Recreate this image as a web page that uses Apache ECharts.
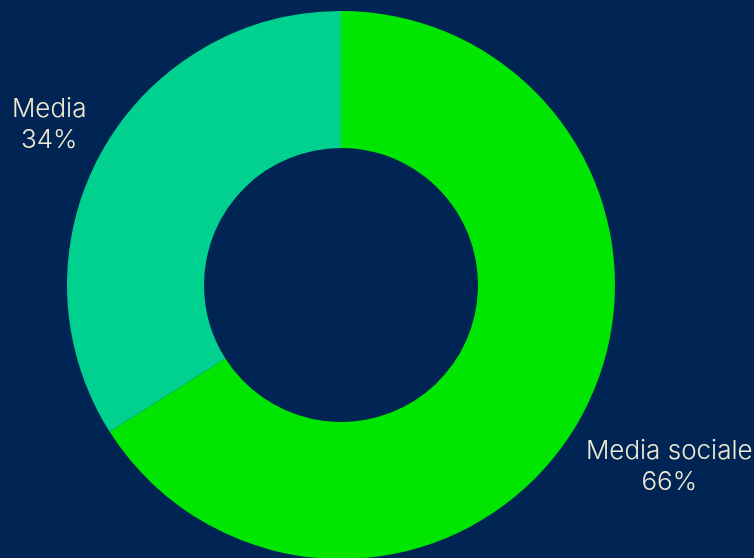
<!DOCTYPE html>
<html>
<head>
<meta charset="utf-8">
<style>
  html, body { margin: 0; padding: 0; background: #002554; }
  #chart { width: 754px; height: 558px; }
</style>
<script src="https://cdn.jsdelivr.net/npm/echarts@6/dist/echarts.min.js"></script>
</head>
<body>
<div id="chart"></div>
<script>
// Share of sources, in percent
const categories = ['Media sociale', 'Media'];
const shares = [66, 34];
const sliceColors = ['#00E600', '#00D18F'];
// distance of each label from the ring's outer edge
const labelDistances = [104, 59];

const chart = echarts.init(document.getElementById('chart'), null, { renderer: 'canvas' });

const data = categories.map((name, i) => ({
  name: name,
  value: shares[i],
  itemStyle: { color: sliceColors[i] },
  labelLine: { length: labelDistances[i], length2: 0 }
}));

chart.setOption({
  backgroundColor: '#002554',
  animation: false,
  series: [{
    type: 'pie',
    center: [341, 285],
    radius: [137, 274],
    startAngle: 90,
    clockwise: true,
    avoidLabelOverlap: false,
    data: data,
    itemStyle: { borderWidth: 0 },
    label: {
      show: true,
      position: 'outside',
      overflow: 'none',
      color: '#EEE9D2',
      fontFamily: 'Inter',
      fontWeight: 300,
      fontSize: 26,
      lineHeight: 31,
      formatter: p => p.name + '\n' + p.value + '%'
    },
    labelLine: { show: false },
    // centre each two-line label on the point where its leader line would end
    labelLayout: function (params) {
      const gap = params.align === 'left' ? -8 : (params.align === 'right' ? 5 : 0);
      return { align: 'center', dx: gap };
    },
    emphasis: { disabled: true }
  }]
});
</script>
</body>
</html>
